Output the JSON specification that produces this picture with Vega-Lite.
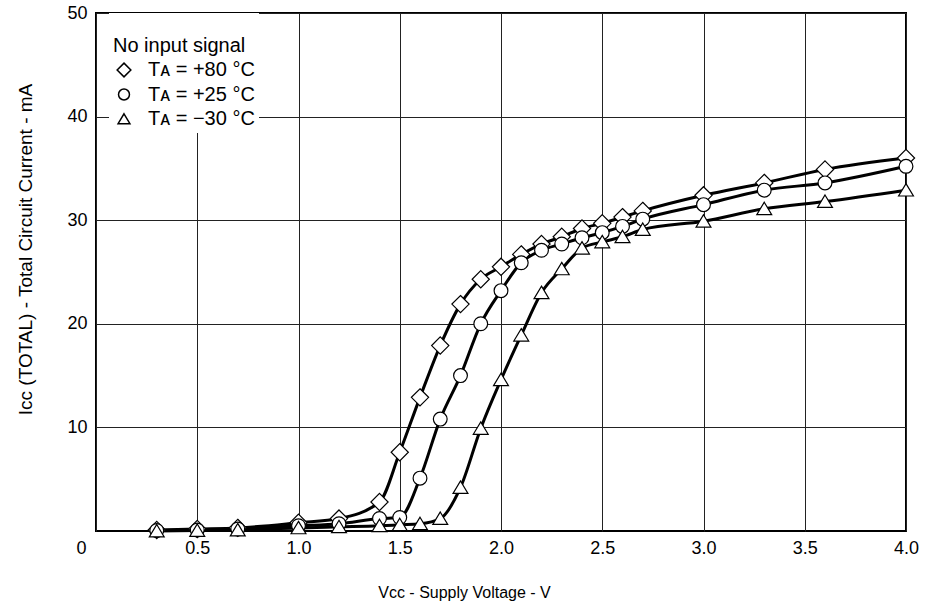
{
  "$schema": "https://vega.github.io/schema/vega-lite/v6.json",
  "width": 810,
  "height": 518,
  "autosize": "none",
  "padding": {"left": 96, "top": 13, "right": 19, "bottom": 79},
  "background": "white",
  "config": {"font": "Liberation Sans", "view": {"stroke": "black", "strokeWidth": 2}},
  "data": {"values": [
    {"vcc": 0.3, "icc": 0.1, "series": "Tᴀ = +80 °C"},
    {"vcc": 0.5, "icc": 0.2, "series": "Tᴀ = +80 °C"},
    {"vcc": 0.7, "icc": 0.3, "series": "Tᴀ = +80 °C"},
    {"vcc": 1.0, "icc": 0.8, "series": "Tᴀ = +80 °C"},
    {"vcc": 1.2, "icc": 1.2, "series": "Tᴀ = +80 °C"},
    {"vcc": 1.4, "icc": 2.8, "series": "Tᴀ = +80 °C"},
    {"vcc": 1.5, "icc": 7.6, "series": "Tᴀ = +80 °C"},
    {"vcc": 1.6, "icc": 12.9, "series": "Tᴀ = +80 °C"},
    {"vcc": 1.7, "icc": 17.9, "series": "Tᴀ = +80 °C"},
    {"vcc": 1.8, "icc": 21.9, "series": "Tᴀ = +80 °C"},
    {"vcc": 1.9, "icc": 24.3, "series": "Tᴀ = +80 °C"},
    {"vcc": 2.0, "icc": 25.5, "series": "Tᴀ = +80 °C"},
    {"vcc": 2.1, "icc": 26.7, "series": "Tᴀ = +80 °C"},
    {"vcc": 2.2, "icc": 27.7, "series": "Tᴀ = +80 °C"},
    {"vcc": 2.3, "icc": 28.4, "series": "Tᴀ = +80 °C"},
    {"vcc": 2.4, "icc": 29.2, "series": "Tᴀ = +80 °C"},
    {"vcc": 2.5, "icc": 29.7, "series": "Tᴀ = +80 °C"},
    {"vcc": 2.6, "icc": 30.3, "series": "Tᴀ = +80 °C"},
    {"vcc": 2.7, "icc": 30.9, "series": "Tᴀ = +80 °C"},
    {"vcc": 3.0, "icc": 32.4, "series": "Tᴀ = +80 °C"},
    {"vcc": 3.3, "icc": 33.6, "series": "Tᴀ = +80 °C"},
    {"vcc": 3.6, "icc": 34.9, "series": "Tᴀ = +80 °C"},
    {"vcc": 4.0, "icc": 36.0, "series": "Tᴀ = +80 °C"},
    {"vcc": 0.3, "icc": 0.05, "series": "Tᴀ = +25 °C"},
    {"vcc": 0.5, "icc": 0.1, "series": "Tᴀ = +25 °C"},
    {"vcc": 0.7, "icc": 0.2, "series": "Tᴀ = +25 °C"},
    {"vcc": 1.0, "icc": 0.5, "series": "Tᴀ = +25 °C"},
    {"vcc": 1.2, "icc": 0.7, "series": "Tᴀ = +25 °C"},
    {"vcc": 1.4, "icc": 1.2, "series": "Tᴀ = +25 °C"},
    {"vcc": 1.5, "icc": 1.3, "series": "Tᴀ = +25 °C"},
    {"vcc": 1.6, "icc": 5.1, "series": "Tᴀ = +25 °C"},
    {"vcc": 1.7, "icc": 10.8, "series": "Tᴀ = +25 °C"},
    {"vcc": 1.8, "icc": 15.0, "series": "Tᴀ = +25 °C"},
    {"vcc": 1.9, "icc": 20.0, "series": "Tᴀ = +25 °C"},
    {"vcc": 2.0, "icc": 23.2, "series": "Tᴀ = +25 °C"},
    {"vcc": 2.1, "icc": 25.9, "series": "Tᴀ = +25 °C"},
    {"vcc": 2.2, "icc": 27.1, "series": "Tᴀ = +25 °C"},
    {"vcc": 2.3, "icc": 27.7, "series": "Tᴀ = +25 °C"},
    {"vcc": 2.4, "icc": 28.3, "series": "Tᴀ = +25 °C"},
    {"vcc": 2.5, "icc": 28.8, "series": "Tᴀ = +25 °C"},
    {"vcc": 2.6, "icc": 29.4, "series": "Tᴀ = +25 °C"},
    {"vcc": 2.7, "icc": 30.1, "series": "Tᴀ = +25 °C"},
    {"vcc": 3.0, "icc": 31.5, "series": "Tᴀ = +25 °C"},
    {"vcc": 3.3, "icc": 32.9, "series": "Tᴀ = +25 °C"},
    {"vcc": 3.6, "icc": 33.6, "series": "Tᴀ = +25 °C"},
    {"vcc": 4.0, "icc": 35.2, "series": "Tᴀ = +25 °C"},
    {"vcc": 0.3, "icc": 0.0, "series": "Tᴀ = −30 °C"},
    {"vcc": 0.5, "icc": 0.05, "series": "Tᴀ = −30 °C"},
    {"vcc": 0.7, "icc": 0.1, "series": "Tᴀ = −30 °C"},
    {"vcc": 1.0, "icc": 0.3, "series": "Tᴀ = −30 °C"},
    {"vcc": 1.2, "icc": 0.4, "series": "Tᴀ = −30 °C"},
    {"vcc": 1.4, "icc": 0.5, "series": "Tᴀ = −30 °C"},
    {"vcc": 1.5, "icc": 0.6, "series": "Tᴀ = −30 °C"},
    {"vcc": 1.6, "icc": 0.7, "series": "Tᴀ = −30 °C"},
    {"vcc": 1.7, "icc": 1.2, "series": "Tᴀ = −30 °C"},
    {"vcc": 1.8, "icc": 4.2, "series": "Tᴀ = −30 °C"},
    {"vcc": 1.9, "icc": 9.9, "series": "Tᴀ = −30 °C"},
    {"vcc": 2.0, "icc": 14.6, "series": "Tᴀ = −30 °C"},
    {"vcc": 2.1, "icc": 18.9, "series": "Tᴀ = −30 °C"},
    {"vcc": 2.2, "icc": 23.0, "series": "Tᴀ = −30 °C"},
    {"vcc": 2.3, "icc": 25.3, "series": "Tᴀ = −30 °C"},
    {"vcc": 2.4, "icc": 27.3, "series": "Tᴀ = −30 °C"},
    {"vcc": 2.5, "icc": 27.9, "series": "Tᴀ = −30 °C"},
    {"vcc": 2.6, "icc": 28.4, "series": "Tᴀ = −30 °C"},
    {"vcc": 2.7, "icc": 29.1, "series": "Tᴀ = −30 °C"},
    {"vcc": 3.0, "icc": 29.9, "series": "Tᴀ = −30 °C"},
    {"vcc": 3.3, "icc": 31.1, "series": "Tᴀ = −30 °C"},
    {"vcc": 3.6, "icc": 31.8, "series": "Tᴀ = −30 °C"},
    {"vcc": 4.0, "icc": 32.9, "series": "Tᴀ = −30 °C"}
  ]},
  "encoding": {
    "x": {
      "field": "vcc", "type": "quantitative",
      "scale": {"domain": [0, 4], "nice": false, "zero": false},
      "axis": {
        "values": [0, 0.5, 1, 1.5, 2, 2.5, 3, 3.5, 4],
        "labelExpr": "datum.value == 0 ? '0' : format(datum.value, '.1f')",
        "labelFontSize": 18, "labelColor": "black", "labelPadding": 8,
        "labelOffset": {"condition": {"test": "datum.value == 0", "value": -15}, "value": 0},
        "labelFlush": false, "labelOverlap": false,
        "ticks": false, "domain": false,
        "grid": true, "gridColor": "#222", "gridWidth": 1, "gridOpacity": 1,
        "title": "Vᴄᴄ -  Supply Voltage  - V",
        "titleFontSize": 16, "titleFontWeight": "normal", "titleColor": "black",
        "titleX": 368, "titleY": 61, "titleBaseline": "middle", "titleAlign": "center"
      }
    },
    "y": {
      "field": "icc", "type": "quantitative",
      "scale": {"domain": [0, 50], "nice": false, "zero": true},
      "axis": {
        "values": [10, 20, 30, 40, 50],
        "labelFontSize": 18, "labelColor": "black", "labelPadding": 9,
        "labelFlush": false, "labelOverlap": false,
        "ticks": false, "domain": false,
        "grid": true, "gridColor": "#222", "gridWidth": 1, "gridOpacity": 1,
        "title": "Iᴄᴄ (TOTAL) -  Total Circuit Current  - mA",
        "titleFontSize": 19, "titleFontWeight": "normal", "titleColor": "black",
        "titleX": -71, "titleY": 236, "titleBaseline": "middle", "titleAlign": "center"
      }
    }
  },
  "layer": [
    {
      "mark": {"type": "line", "interpolate": "monotone", "color": "black", "strokeWidth": 3},
      "encoding": {"detail": {"field": "series", "type": "nominal"}}
    },
    {
      "mark": {"type": "point", "filled": false, "color": "black", "fill": "white", "fillOpacity": 1, "strokeWidth": 1.2, "opacity": 1, "size": 190},
      "encoding": {
        "shape": {
          "field": "series", "type": "nominal",
          "scale": {
            "domain": ["Tᴀ = +80 °C", "Tᴀ = +25 °C", "Tᴀ = −30 °C"],
            "range": ["M0,-1.25L1.25,0L0,1.25L-1.25,0Z", "circle", "M0,-0.95L1.08,0.85L-1.08,0.85Z"]
          },
          "legend": {
            "orient": "none", "legendX": 13, "legendY": 0,
            "title": ["", "No input signal"],
            "titleFontSize": 20, "titleFontWeight": "normal", "titleColor": "black",
            "titleLineHeight": 19, "titlePadding": 4,
            "labelFontSize": 20, "labelColor": "black",
            "fillColor": "white", "padding": 4, "rowPadding": 4.5,
            "symbolSize": 120, "symbolOffset": 1, "labelOffset": 14,
            "encode": {
              "symbols": {
                "update": {
                  "shape": {"scale": "shape", "field": "value"},
                  "size": {"value": 120},
                  "fill": {"value": "white"},
                  "fillOpacity": {"value": 1},
                  "stroke": {"value": "black"},
                  "strokeOpacity": {"value": 1},
                  "strokeWidth": {"value": 1.2},
                  "opacity": {"value": 1}
                }
              }
            }
          }
        }
      }
    }
  ]
}
